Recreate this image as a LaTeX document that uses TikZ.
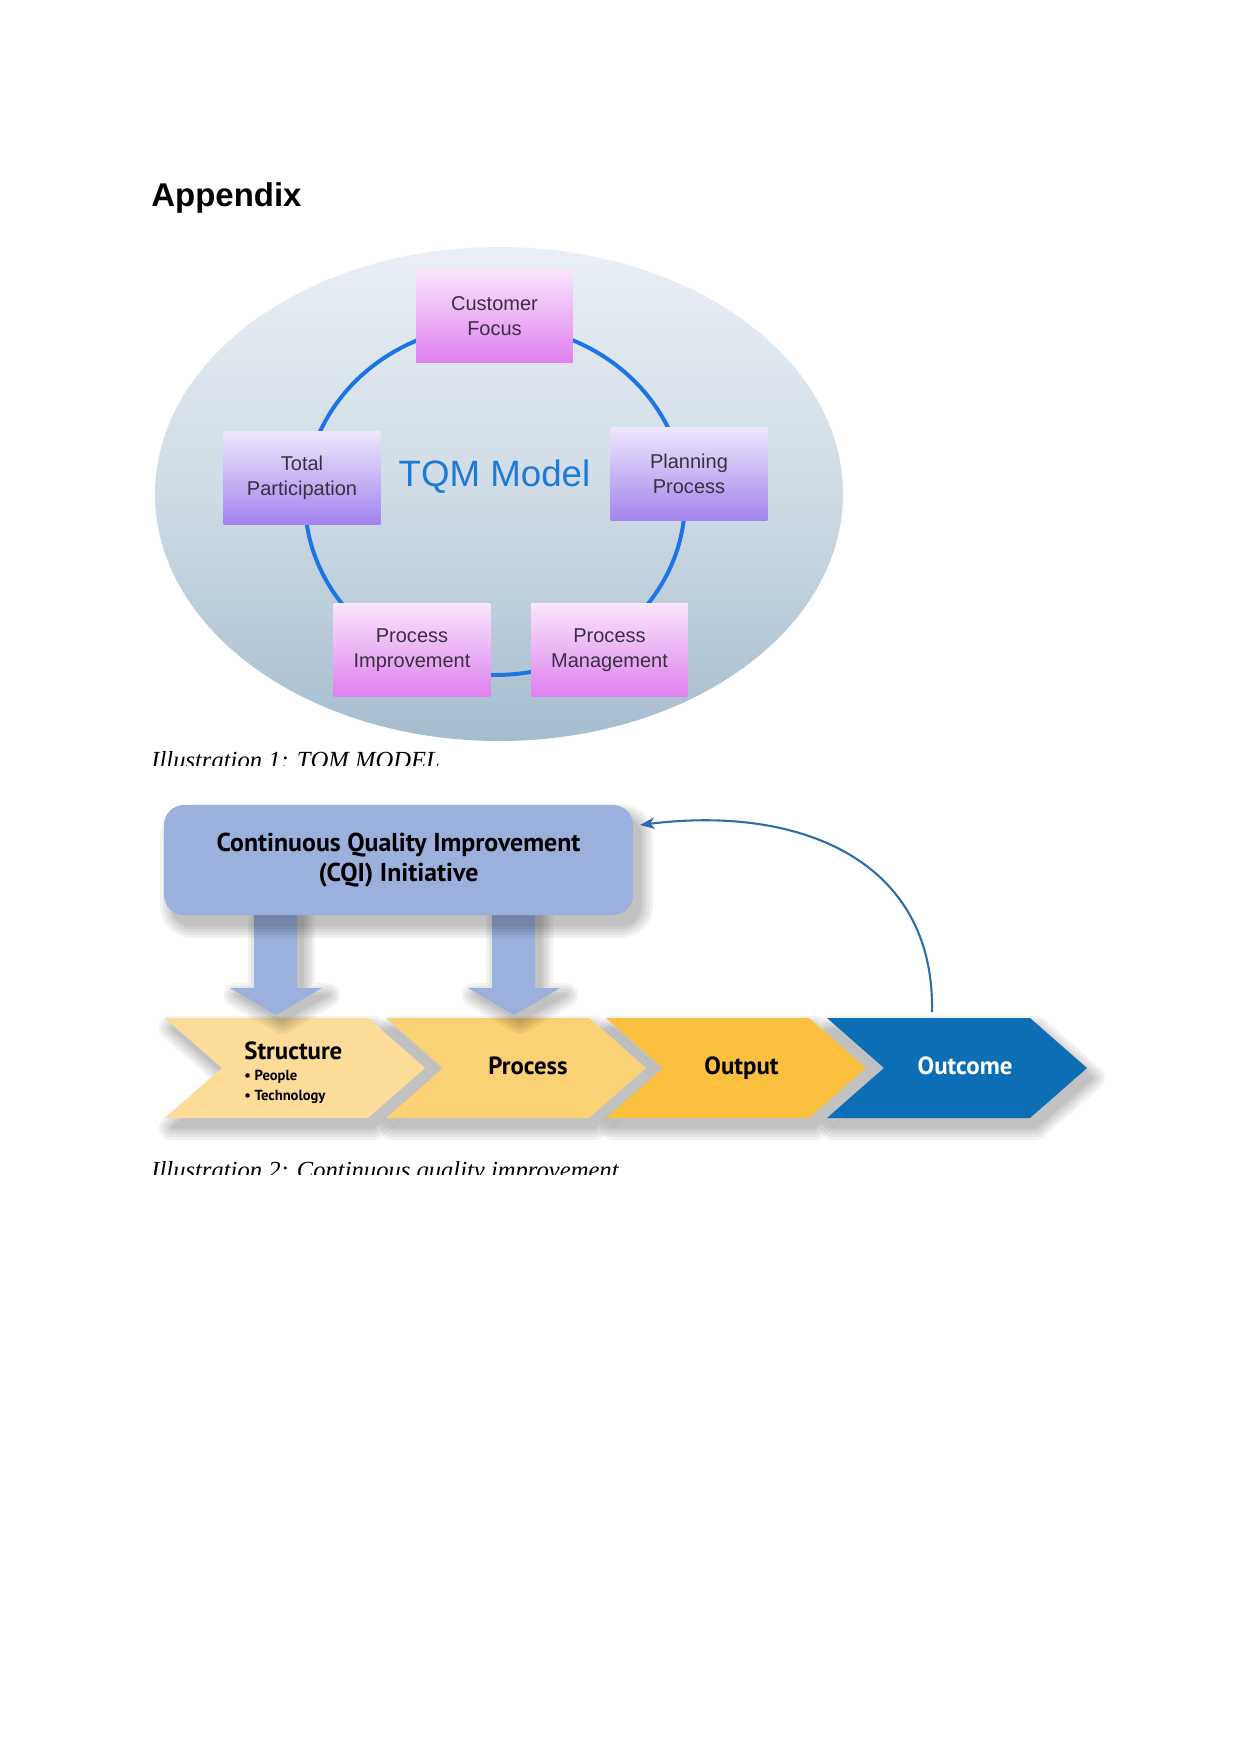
\documentclass[tikz,border=0pt]{standalone}
\usepackage{fontspec}
\setmainfont{Liberation Serif}
\newfontfamily\arialf{Liberation Sans}
\newfontfamily\myrf{PT Sans}
\usetikzlibrary{arrows.meta}
\definecolor{ellTop}{RGB}{234,239,245}
\definecolor{ellMid}{RGB}{207,219,229}
\definecolor{ellBot}{RGB}{166,189,206}
\definecolor{pinkT}{RGB}{249,230,251}
\definecolor{pinkB}{RGB}{224,128,240}
\definecolor{purT}{RGB}{237,231,251}
\definecolor{purB}{RGB}{162,132,238}
\definecolor{boxtxt}{RGB}{55,50,62}
\definecolor{tqmblue}{RGB}{30,122,216}
\definecolor{ringblue}{RGB}{28,117,230}
\definecolor{cqifill}{RGB}{155,176,220}
\definecolor{strc}{RGB}{252,220,152}
\definecolor{procc}{RGB}{251,209,118}
\definecolor{outpc}{RGB}{250,192,62}
\definecolor{outcc}{RGB}{12,111,181}
\definecolor{fbcol}{RGB}{43,110,168}
\newcommand\softshadow[3]{%
  \foreach \r in {12,9,6,3,0.5}{%
    \begin{scope}[transparency group, opacity=0.05]
      \path[shift={(#2,#3)}, #1, fill=black, draw=black, line width=2*\r*0.47967pt, line join=round];
    \end{scope}
  }}
\begin{document}
\begin{tikzpicture}[x=0.47967pt,y=-0.47967pt,
  tqmbox/.style={draw=none, minimum width=75.3pt, minimum height=44.6pt, inner sep=0pt, align=center, text=boxtxt, font=\arialf\fontsize{9.6}{12}\selectfont},
  pinkbox/.style={tqmbox, top color=pinkT, bottom color=pinkB},
  purplebox/.style={tqmbox, top color=purT, bottom color=purB},
  caption/.style={anchor=base west, inner sep=0pt, font=\itshape\fontsize{11.8}{14}\selectfont},
  chev/.style={insert path={(#1,1018) -- ++(203,0) -- ++(57,50) -- ++(-57,50) -- ++(-203,0) -- ++(57,-50) -- cycle}},
  arrowL/.style={insert path={(254,900) -- (297,900) -- (297,988) -- (322,988) -- (276,1015) -- (230,988) -- (254,988) -- cycle}},
  arrowR/.style={insert path={(492,900) -- (535,900) -- (535,988) -- (560,988) -- (514,1015) -- (468,988) -- (492,988) -- cycle}},
  cqishape/.style={rounded corners=9.6pt, insert path={(164,805) rectangle (633,915)}},
  cqibox/.style={fill=cqifill, rounded corners=9.6pt, minimum width=224.96pt, minimum height=52.76pt, inner sep=0pt, align=center, font=\myrf\bfseries\fontsize{12.4}{14.4}\selectfont},
  chevtitle/.style={inner sep=0pt, font=\myrf\bfseries\fontsize{11.9}{13}\selectfont},
  chevsmall/.style={inner sep=0pt, anchor=base west, font=\myrf\bfseries\fontsize{7}{9}\selectfont},
  fbarrow/.style={draw=fbcol, line width=1pt, -{Stealth[length=7pt, width=5.5pt, inset=2pt]}}
]
\useasboundingbox (0,0) rectangle (1241,1754);
\fill[white] (0,0) rectangle (1241,1754);

\node[anchor=base west, inner sep=0pt, font=\arialf\bfseries\fontsize{15.8}{19}\selectfont] (appx) at (151,206) {Appendix};

% ---------- TQM model ----------
\shade[top color=ellTop, bottom color=ellBot, middle color=ellMid] (499,494) ellipse [x radius=344, y radius=247];
\draw[ringblue, line width=1.9pt] (495,500) ellipse [x radius=190, y radius=175];

\node[pinkbox] (cf) at (494.5,316) {Customer\\Focus};
\node[purplebox] (tp) at (302,477.5) {Total\\Participation};
\node[purplebox] (pp) at (689,474) {Planning\\Process};
\node[pinkbox] (pi) at (412,650) {Process\\Improvement};
\node[pinkbox] (pm) at (609.5,650) {Process\\Management};
\node[anchor=base, inner sep=0pt, text=tqmblue, font=\arialf\fontsize{17.6}{20}\selectfont] (tqm) at (494.5,486.7) {TQM Model};

\begin{scope}
  \clip (140,740) rectangle (700,765);
  \node[caption] (cap1) at (151,768) {Illustration 1: TQM MODEL};
\end{scope}

% ---------- CQI diagram ----------
\softshadow{chev=165}{6}{10}
\softshadow{chev=386}{6}{10}
\softshadow{chev=606}{6}{10}
\softshadow{chev=827}{6}{10}
\path[chev=165, fill=strc];
\path[chev=386, fill=procc];
\path[chev=606, fill=outpc];
\path[chev=827, fill=outcc];

\softshadow{arrowL}{6}{7}
\softshadow{arrowR}{6}{7}
\path[arrowL, fill=cqifill];
\path[arrowR, fill=cqifill];

\softshadow{cqishape}{8}{11}
\node[cqibox] (cqi) at (398.5,860) {Continuous Quality Improvement\\(CQI) Initiative};

\node[chevtitle, anchor=base west] (structure) at (244,1059) {Structure};
\node[chevsmall] (people) at (244,1080) {\textbullet\ People};
\node[chevsmall] (techn) at (244,1100) {\textbullet\ Technology};
\node[chevtitle, anchor=base] (process) at (528,1074) {Process};
\node[chevtitle, anchor=base] (output) at (741.5,1074) {Output};
\node[chevtitle, anchor=base, text=white] (outcome) at (965,1074) {Outcome};

\coordinate (fbstart) at (932,1012);
\coordinate (fbend) at (640,825);
\draw[fbarrow] (fbstart) .. controls (935,860) and (800,805) .. (fbend);

\begin{scope}
  \clip (140,1150) rectangle (800,1174);
  \node[caption] (cap2) at (151,1178) {Illustration 2: Continuous quality improvement};
\end{scope}
\end{tikzpicture}
\end{document}
